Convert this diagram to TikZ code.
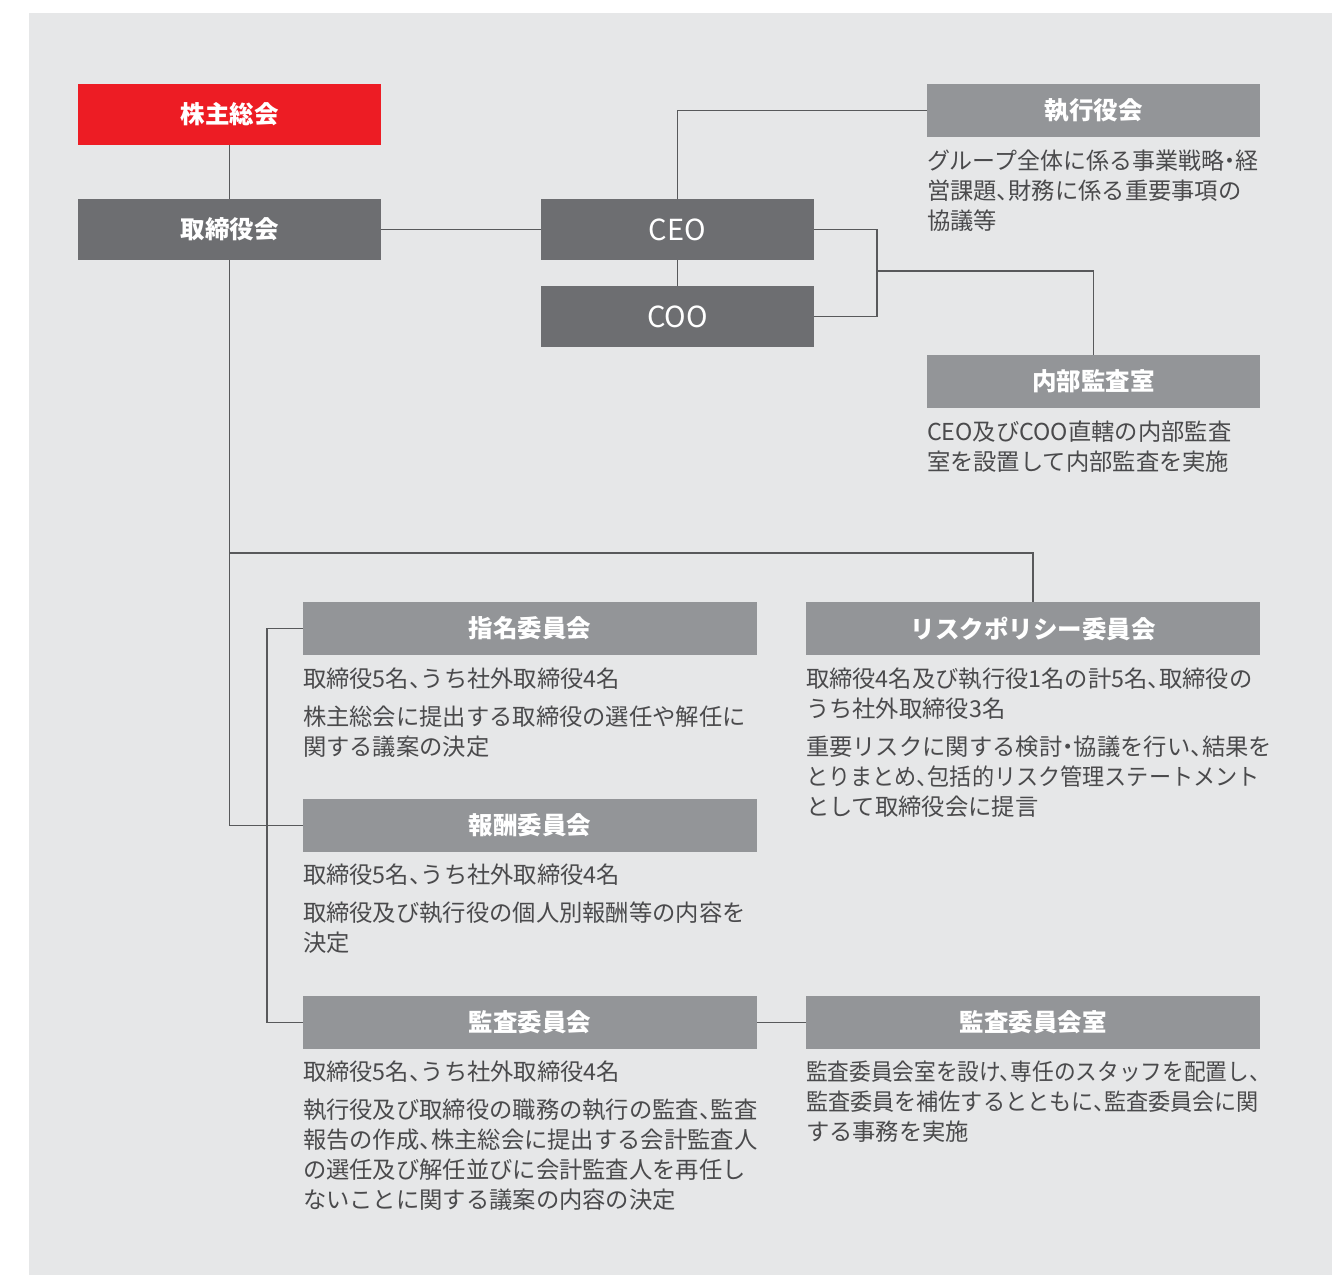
\documentclass[tikz,border=0pt]{standalone}
\usepackage{graphicx}
\usepackage{fontspec}
\setmainfont{Noto Sans CJK JP}[RawFeature={+halt}]
\definecolor{bgc}{HTML}{E6E7E8}
\definecolor{redc}{HTML}{ED1C24}
\definecolor{darkc}{HTML}{6D6E71}
\definecolor{midc}{HTML}{939598}
\definecolor{linec}{HTML}{58595B}
\definecolor{txtc}{HTML}{4A4A4C}
\newcommand{\narrowline}[2]{\scalebox{#1}[1]{#2}}
\begin{document}
\begin{tikzpicture}[x=1pt,y=-1pt,
  box/.style={inner sep=0pt, outer sep=0pt, anchor=north west, text=white,
    font=\fontsize{24.5}{28}\selectfont\bfseries},
  topbox/.style={box, minimum width=303pt, minimum height=61pt},
  execbox/.style={box, fill=darkc, minimum width=273pt, minimum height=61pt,
    font=\fontsize{29}{32}\selectfont},
  sidebox/.style={box, fill=midc, minimum width=333pt, minimum height=53pt},
  combox/.style={box, fill=midc, minimum width=454pt, minimum height=53pt},
  desc/.style={anchor=base west, inner sep=0pt, outer sep=0pt, text=txtc,
    font=\fontsize{23.3}{30}\selectfont},
  conn/.style={draw=linec, line width=1.8pt}
]
\useasboundingbox (0,0) rectangle (1341,1275);
\fill[bgc] (29,13) rectangle (1332,1275);

% boxes
\node[topbox, fill=redc] (sh) at (78,84) {株主総会};
\node[topbox, fill=darkc] (bd) at (78,199) {取締役会};
\node[execbox] (ceo) at (541,199) {CEO};
\node[execbox] (coo) at (541,286) {COO};
\node[sidebox] (exec) at (927,84) {執行役会};
\node[sidebox] (ia) at (927,355) {内部監査室};
\node[combox] (nom) at (303,602) {指名委員会};
\node[combox] (risk) at (806,602) {リスクポリシー委員会};
\node[combox] (rem) at (303,799) {報酬委員会};
\node[combox] (aud) at (303,996) {監査委員会};
\node[combox] (audr) at (806,996) {監査委員会室};

% descriptions
\node[desc] (execd) at (927,169) {\parbox[t]{400pt}{\raggedright
  \narrowline{0.985}{グループ全体に係る事業戦略・経}\\営課題、財務に係る重要事項の\\協議等}};
\node[desc] (iad) at (927,440) {\parbox[t]{400pt}{\raggedright
  CEO及びCOO直轄の内部監査\\室を設置して内部監査を実施}};
\node[desc] (nomd) at (303,687) {\parbox[t]{520pt}{\raggedright
  取締役5名、うち社外取締役4名\\[8pt]株主総会に提出する取締役の選任や解任に\\関する議案の決定}};
\node[desc] (riskd) at (806,687) {\parbox[t]{520pt}{\raggedright
  取締役4名及び執行役1名の計5名、取締役の\\うち社外取締役3名\\[8pt]重要リスクに関する検討・協議を行い、結果を\\\narrowline{0.95}{とりまとめ、包括的リスク管理ステートメント}\\として取締役会に提言}};
\node[desc] (remd) at (303,883) {\parbox[t]{520pt}{\raggedright
  取締役5名、うち社外取締役4名\\[8pt]取締役及び執行役の個人別報酬等の内容を\\決定}};
\node[desc] (audd) at (303,1080) {\parbox[t]{520pt}{\raggedright
  取締役5名、うち社外取締役4名\\[8pt]執行役及び取締役の職務の執行の監査、監査\\報告の作成、株主総会に提出する会計監査人\\の選任及び解任並びに会計監査人を再任し\\ないことに関する議案の内容の決定}};
\node[desc] (audrd) at (806,1080) {\parbox[t]{520pt}{\raggedright
  \narrowline{0.93}{監査委員会室を設け、専任のスタッフを配置し、}\\\narrowline{0.95}{監査委員を補佐するとともに、監査委員会に関}\\する事務を実施}};

% connectors
\coordinate (j1) at (877,271);
\coordinate (j2) at (229.5,553);
\draw[conn] (sh) -- (bd);
\draw[conn] (bd.east) -- (ceo.west);
\draw[conn] (ceo.north) |- (exec.west);
\draw[conn] (ceo) -- (coo);
\draw[conn] (ceo.east) -- ++(63,0) |- (coo.east);
\draw[conn] (j1) -| (ia.north);
\draw[conn] (bd.south) |- (rem.west);
\draw[conn] (j2) -| (risk.north);
\draw[conn] (nom.west) -- ++(-36,0) |- (aud.west);
\draw[conn] (aud.east) -- (audr.west);
\end{tikzpicture}
\end{document}
